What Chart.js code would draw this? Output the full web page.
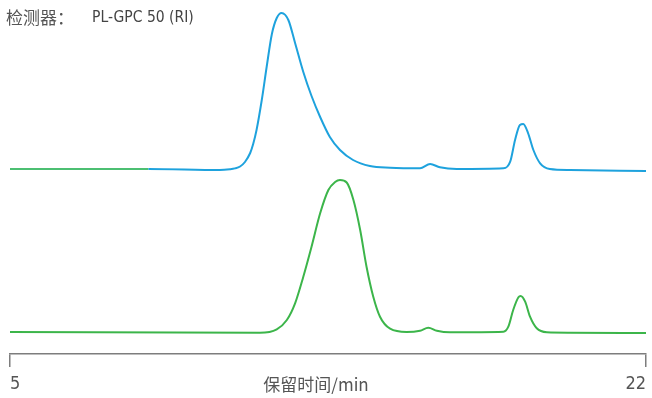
<!DOCTYPE html>
<html>
<head>
<meta charset="utf-8">
<script src="https://cdn.jsdelivr.net/npm/chart.js@4/dist/chart.umd.min.js"></script>
<style>
  html, body { margin: 0; padding: 0; background: #fff; }
  canvas { display: block; }
</style>
</head>
<body>
<canvas id="gpcChart" width="652" height="398"></canvas>
<script>
// ===== DATA =====
// retention time (min) and detector response (arb. units, traces stacked)
const blueTime   = [5.0, 8.7, 10.61, 10.88, 11.01, 11.15, 11.28, 11.42, 11.50, 11.59, 11.73, 11.86, 12.00, 12.13, 12.26, 12.44, 12.62, 12.84, 13.06, 13.29, 13.55, 13.82, 14.17, 14.62, 15.16, 15.96, 16.23, 16.49, 16.94, 18.19, 18.37, 18.50, 18.63, 18.72, 18.85, 18.99, 19.17, 19.43, 19.97, 22.0];
const blueSignal = [185, 185, 184, 184.8, 185.6, 187.5, 192, 201, 210, 224, 254, 287, 320, 336, 341, 334, 311, 282, 258, 237, 217, 204, 194, 188, 186.3, 185.7, 190, 186.7, 185, 185.7, 192.3, 214, 229, 230, 220.7, 204, 190.7, 185, 184, 183];

const greenTime   = [5.0, 11.68, 12.13, 12.40, 12.62, 12.84, 13.06, 13.29, 13.51, 13.69, 13.82, 14.00, 14.18, 14.36, 14.53, 14.71, 14.89, 15.16, 15.60, 15.96, 16.18, 16.41, 16.76, 18.19, 18.32, 18.45, 18.59, 18.65, 18.77, 18.90, 19.08, 19.35, 19.97, 22.0];
const greenSignal = [22, 21.3, 24.7, 34, 50.7, 77.3, 107.3, 140.7, 164, 172, 174, 171.5, 154, 124, 87.3, 57.3, 37.3, 25.3, 22, 23.3, 26.3, 23.3, 21.7, 22.3, 27.3, 44, 56.7, 58, 52.3, 37.3, 25.7, 21.7, 21.3, 21];

const xTicks = [5, 22];

const BLUE = '#1ea2dd';
const GREEN = '#3cb54a';
const AXIS_GREY = '#7d7d7d';
const TEXT_GREY = '#555555';
const NARROW = "'Liberation Sans Narrow', 'DejaVu Sans Condensed', Roboto, sans-serif";

const toPoints = (xs, ys) => xs.map((x, i) => ({ x: x, y: ys[i] }));

// header text and the axis caption share the bottom row with the tick labels
const textPlugin = {
    id: 'chartText',
    afterDraw(chart) {
        const ctx = chart.ctx;
        ctx.save();
        ctx.textBaseline = 'middle';
        ctx.textAlign = 'left';
        ctx.fillStyle = TEXT_GREY;
        ctx.font = "17px 'Noto Sans CJK SC', sans-serif";
        ctx.fillText('检测器：', 6, 18);
        ctx.fillStyle = '#444';
        ctx.font = '15.5px ' + NARROW;
        ctx.fillText('PL-GPC 50 (RI)', 92, 18);

        ctx.fillStyle = TEXT_GREY;
        ctx.textAlign = 'center';
        ctx.font = "17px 'Noto Sans CJK SC', sans-serif";
        ctx.fillText('保留时间/min', 316, 385);
        ctx.restore();
    }
};

new Chart(document.getElementById('gpcChart'), {
    type: 'line',
    data: {
        datasets: [
            {
                label: 'RI-1',
                data: toPoints(blueTime, blueSignal),
                borderColor: BLUE,
                borderWidth: 2,
                pointRadius: 0,
                cubicInterpolationMode: 'monotone',
                segment: {
                    borderColor: c => c.p1.parsed.x <= 8.7 ? '#4cbf72' : BLUE
                }
            },
            {
                label: 'RI-2',
                data: toPoints(greenTime, greenSignal),
                borderColor: GREEN,
                borderWidth: 2,
                pointRadius: 0,
                cubicInterpolationMode: 'monotone'
            }
        ]
    },
    options: {
        responsive: false,
        animation: false,
        layout: { padding: { left: 10, right: 6, top: 0, bottom: 5 } },
        plugins: {
            legend: { display: false },
            tooltip: { enabled: false }
        },
        scales: {
            x: {
                type: 'linear',
                min: 5,
                max: 22,
                afterBuildTicks: scale => { scale.ticks = xTicks.map(v => ({ value: v })); },
                afterFit: scale => {
                    scale.height = 39;
                    scale.paddingRight = 0;
                    scale.paddingLeft = 0;
                },
                border: { display: true, color: AXIS_GREY, width: 1.5 },
                grid: {
                    display: true,
                    drawOnChartArea: false,
                    drawTicks: true,
                    tickLength: 13,
                    color: AXIS_GREY,
                    lineWidth: 1.5
                },
                ticks: {
                    align: 'inner',
                    padding: 7,
                    color: TEXT_GREY,
                    maxRotation: 0,
                    font: { family: NARROW, size: 18 },
                    callback: v => String(v)
                }
            },
            y: {
                display: false,
                min: 0,
                max: 354
            }
        }
    },
    plugins: [textPlugin]
});
</script>
</body>
</html>
